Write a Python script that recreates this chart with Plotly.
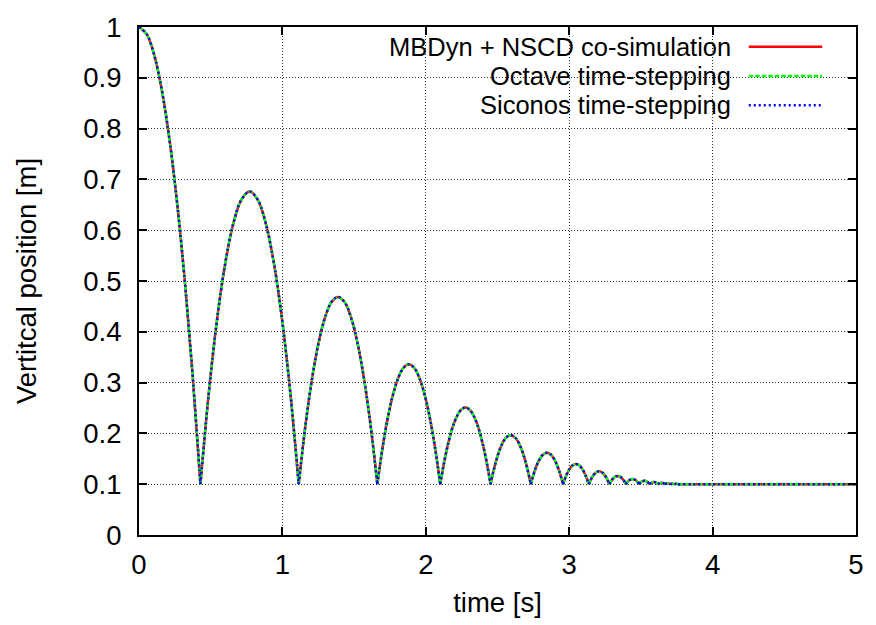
import plotly.graph_objects as go

# ---- data (None separates the bounce arcs) ----
time_s = [
    0, 0.0536, 0.1071, 0.1607, 0.2142, 0.2678, 0.3213, 0.3749, 0.4284, None,
    0.4284, 0.4855, 0.5426, 0.5998, 0.6569, 0.714, 0.7711, 0.8282, 0.8853, 0.9425, 0.9996, 1.0567, 1.1138, None,
    1.1138, 1.1595, 1.2052, 1.2509, 1.2966, 1.3423, 1.3880, 1.4336, 1.4793, 1.5250, 1.5707, 1.6164, 1.6621, None,
    1.6621, 1.6987, 1.7352, 1.7718, 1.8084, 1.8449, 1.8815, 1.9180, 1.9546, 1.9912, 2.0277, 2.0643, 2.1008, None,
    2.1008, 2.1300, 2.1593, 2.1885, 2.2178, 2.2470, 2.2763, 2.3055, 2.3347, 2.3640, 2.3932, 2.4225, 2.4517, None,
    2.4517, 2.4868, 2.5219, 2.5570, 2.5921, 2.6271, 2.6622, 2.6973, 2.7324, None,
    2.7324, 2.7605, 2.7886, 2.8166, 2.8447, 2.8728, 2.9009, 2.9289, 2.957, None,
    2.957, 2.9795, 3.0019, 3.0244, 3.0469, 3.0693, 3.0918, 3.1142, 3.1367, None,
    3.1367, 3.1607, 3.1846, 3.2086, 3.2325, 3.2565, 3.2804, None,
    3.2804, 3.2996, 3.3187, 3.3379, 3.3571, 3.3762, 3.3954, None,
    3.3954, 3.4184, 3.4414, 3.4644, 3.4874, None,
    3.4874, 3.5058, 3.5242, 3.5426, 3.561, None,
    3.561, 3.5757, 3.5905, 3.6052, 3.6199, None,
    3.6199, 3.6317, 3.6435, 3.6552, 3.667, None,
    3.667, 3.6859, 3.7047, None,
    3.7047, 3.7198, 3.7348, None,
    3.7348, 3.7469, 3.7589, None,
    3.7589, 4.0, 4.5, 5.0,
]
position_m = [
    1, 0.9859, 0.9438, 0.8734, 0.775, 0.6484, 0.4938, 0.3109, 0.1, None,
    0.1, 0.276, 0.42, 0.532, 0.612, 0.66, 0.676, 0.66, 0.612, 0.532, 0.42, 0.276, 0.1, None,
    0.1, 0.2127, 0.3048, 0.3765, 0.4277, 0.4585, 0.4687, 0.4585, 0.4277, 0.3765, 0.3048, 0.2127, 0.1, None,
    0.1, 0.1721, 0.2311, 0.2769, 0.3097, 0.3293, 0.3359, 0.3293, 0.3097, 0.2769, 0.2311, 0.1721, 0.1, None,
    0.1, 0.1461, 0.1839, 0.2133, 0.2342, 0.2468, 0.251, 0.2468, 0.2342, 0.2133, 0.1839, 0.1461, 0.1, None,
    0.1, 0.1423, 0.1725, 0.1906, 0.1966, 0.1906, 0.1725, 0.1423, 0.1, None,
    0.1, 0.1271, 0.1464, 0.158, 0.1619, 0.158, 0.1464, 0.1271, 0.1, None,
    0.1, 0.1173, 0.1297, 0.1371, 0.1396, 0.1371, 0.1297, 0.1173, 0.1, None,
    0.1, 0.1141, 0.1225, 0.1253, 0.1225, 0.1141, 0.1, None,
    0.1, 0.109, 0.1144, 0.1162, 0.1144, 0.109, 0.1, None,
    0.1, 0.1078, 0.1104, 0.1078, 0.1, None,
    0.1, 0.105, 0.1066, 0.105, 0.1, None,
    0.1, 0.1032, 0.1043, 0.1032, 0.1, None,
    0.1, 0.102, 0.1027, 0.102, 0.1, None,
    0.1, 0.1017, 0.1, None,
    0.1, 0.1011, 0.1, None,
    0.1, 0.1007, 0.1, None,
    0.1, 0.1, 0.1, 0.1,
]

series_names = ["MBDyn + NSCD co-simulation", "Octave time-stepping", "Siconos time-stepping"]
series_colors = ["#ff0000", "#00ff00", "#0000ff"]
series_dash = ["solid", "4.5px,2px", "2px,3px"]

x_ticks = [0, 1, 2, 3, 4, 5]
y_ticks = [0, 0.1, 0.2, 0.3, 0.4, 0.5, 0.6, 0.7, 0.8, 0.9, 1]
y_ticktext = ["0", "0.1", "0.2", "0.3", "0.4", "0.5", "0.6", "0.7", "0.8", "0.9", "1"]

FONT = "Liberation Sans, Arial, Helvetica, sans-serif"
FS = 27.5
FS_KEY = 25.5

fig = go.Figure()
for name, col, dash in zip(series_names, series_colors, series_dash):
    fig.add_trace(go.Scatter(x=time_s, y=position_m, mode="lines", name=name,
                             line=dict(color=col, width=2.5, dash=dash, shape="spline", smoothing=1),
                             connectgaps=False, showlegend=False))

W, H = 876, 625
ML, MR, MT, MB = 139, 15, 24, 88
PW, PH = W - ML - MR, H - MT - MB

def px(xp):
    return (xp - ML) / PW

def py(yp):
    return (H - MB - yp) / PH

shapes = [
    # opaque key box (covers the grid)
    dict(type="rect", xref="paper", yref="paper", x0=px(303), x1=px(843), y0=py(117), y1=1,
         fillcolor="white", line=dict(width=0), layer="between"),
]
annotations = []
row_y = [44, 73.5, 103]
for i, (name, col, dash) in enumerate(zip(series_names, series_colors, series_dash)):
    shapes.append(dict(type="line", xref="paper", yref="paper", x0=px(753), x1=px(827),
                       y0=py(row_y[i]), y1=py(row_y[i]),
                       line=dict(color=col, width=2.5, dash=dash), layer="above"))
    annotations.append(dict(text=name, xref="paper", yref="paper", x=px(737), y=py(row_y[i]),
                            xanchor="right", yanchor="middle", showarrow=False,
                            font=dict(family=FONT, size=FS_KEY, color="black")))

axis_common = dict(showline=True, linecolor="black", linewidth=2, mirror="allticks",
                   ticks="inside", ticklen=8, tickwidth=1.5, tickcolor="black",
                   showgrid=True, gridcolor="#333333", gridwidth=1, griddash="1px,2px",
                   zeroline=False, tickfont=dict(family=FONT, size=FS, color="black"))

fig.update_layout(
    width=W, height=H,
    margin=dict(l=ML, r=MR, t=MT, b=MB),
    paper_bgcolor="white", plot_bgcolor="white",
    font=dict(family=FONT, size=FS, color="black"),
    xaxis=dict(range=[0, 5], tickvals=x_ticks, ticktext=[str(v) for v in x_ticks],
               ticklabelstandoff=4,
               title=dict(text="time [s]", font=dict(family=FONT, size=FS), standoff=14),
               **axis_common),
    yaxis=dict(range=[0, 1], tickvals=y_ticks, ticktext=y_ticktext,
               ticklabelstandoff=10,
               title=dict(text="Vertitcal position [m]", font=dict(family=FONT, size=FS), standoff=39),
               **axis_common),
    shapes=shapes,
    annotations=annotations,
    showlegend=False,
)

fig.write_html("out.html")
